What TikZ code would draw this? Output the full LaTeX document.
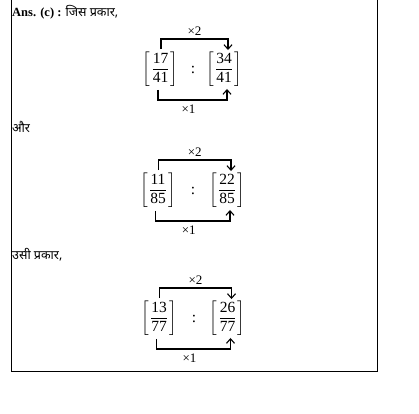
\documentclass[tikz,border=0pt]{standalone}
\usepackage{amsmath}
\usepackage{fontspec}
\setmainfont{Liberation Serif}
\newfontfamily\deva[Script=Devanagari]{Noto Sans}
\usetikzlibrary{arrows.meta,calc}
\tikzset{
  txt/.style={anchor=base west,inner sep=0pt,font=\fontsize{12.5}{14}\selectfont},
  frac/.style={inner sep=0pt,font=\fontsize{15.5}{17}\selectfont},
  conn/.style={line width=1.1pt,-{Straight Barb[length=4.5pt,width=8pt,line width=1.1pt]}},
  lbl/.style={inner sep=0pt,font=\fontsize{13}{15}\selectfont},
}
\newcommand{\fr}[2]{$\left[\mkern1.5mu\dfrac{\text{#1}}{\text{#2}}\mkern1.5mu\right]$}
\begin{document}
\begin{tikzpicture}[x=1pt,y=-1pt]
\useasboundingbox (0,0) rectangle (419,413);
\draw[line width=1pt] (11,0) -- (11,371) -- (377,371) -- (377,0);

\node[txt] (t1) at (12,16) {\textbf{Ans. (c) :} {\deva जिस प्रकार,}};
\node[txt] (t2) at (12,132) {{\deva और}};
\node[txt] (t3) at (12,259) {{\deva उसी प्रकार,}};

% diagram 1
\node[frac] (a1) at (160.5,69.5) {\fr{17}{41}};
\node[frac] (c1) at (193,69.5) {:};
\node[frac] (b1) at (224,69.5) {\fr{34}{41}};
% diagram 2
\node[frac] (a2) at (158,190.5) {\fr{11}{85}};
\node[frac] (c2) at (193,190.5) {:};
\node[frac] (b2) at (227,190.5) {\fr{22}{85}};
% diagram 3
\node[frac] (a3) at (159,318.5) {\fr{13}{77}};
\node[frac] (c3) at (194,318.5) {:};
\node[frac] (b3) at (227.5,318.5) {\fr{26}{77}};

\foreach \i in {1,2,3}{
  \draw[conn] ([xshift=0.5pt,yshift=3pt]a\i.north) -- ++(0,-10)
     -| node[lbl,pos=0.25,above=3pt] (u\i) {×2} ([xshift=4pt,yshift=2pt]b\i.north);
  \draw[conn] ([xshift=-2.5pt,yshift=-3pt]a\i.south) -- ++(0,10)
     -| node[lbl,pos=0.25,below=4.5pt,xshift=-4pt] (d\i) {×1} ([xshift=3pt,yshift=-2pt]b\i.south);
}
\end{tikzpicture}
\end{document}
